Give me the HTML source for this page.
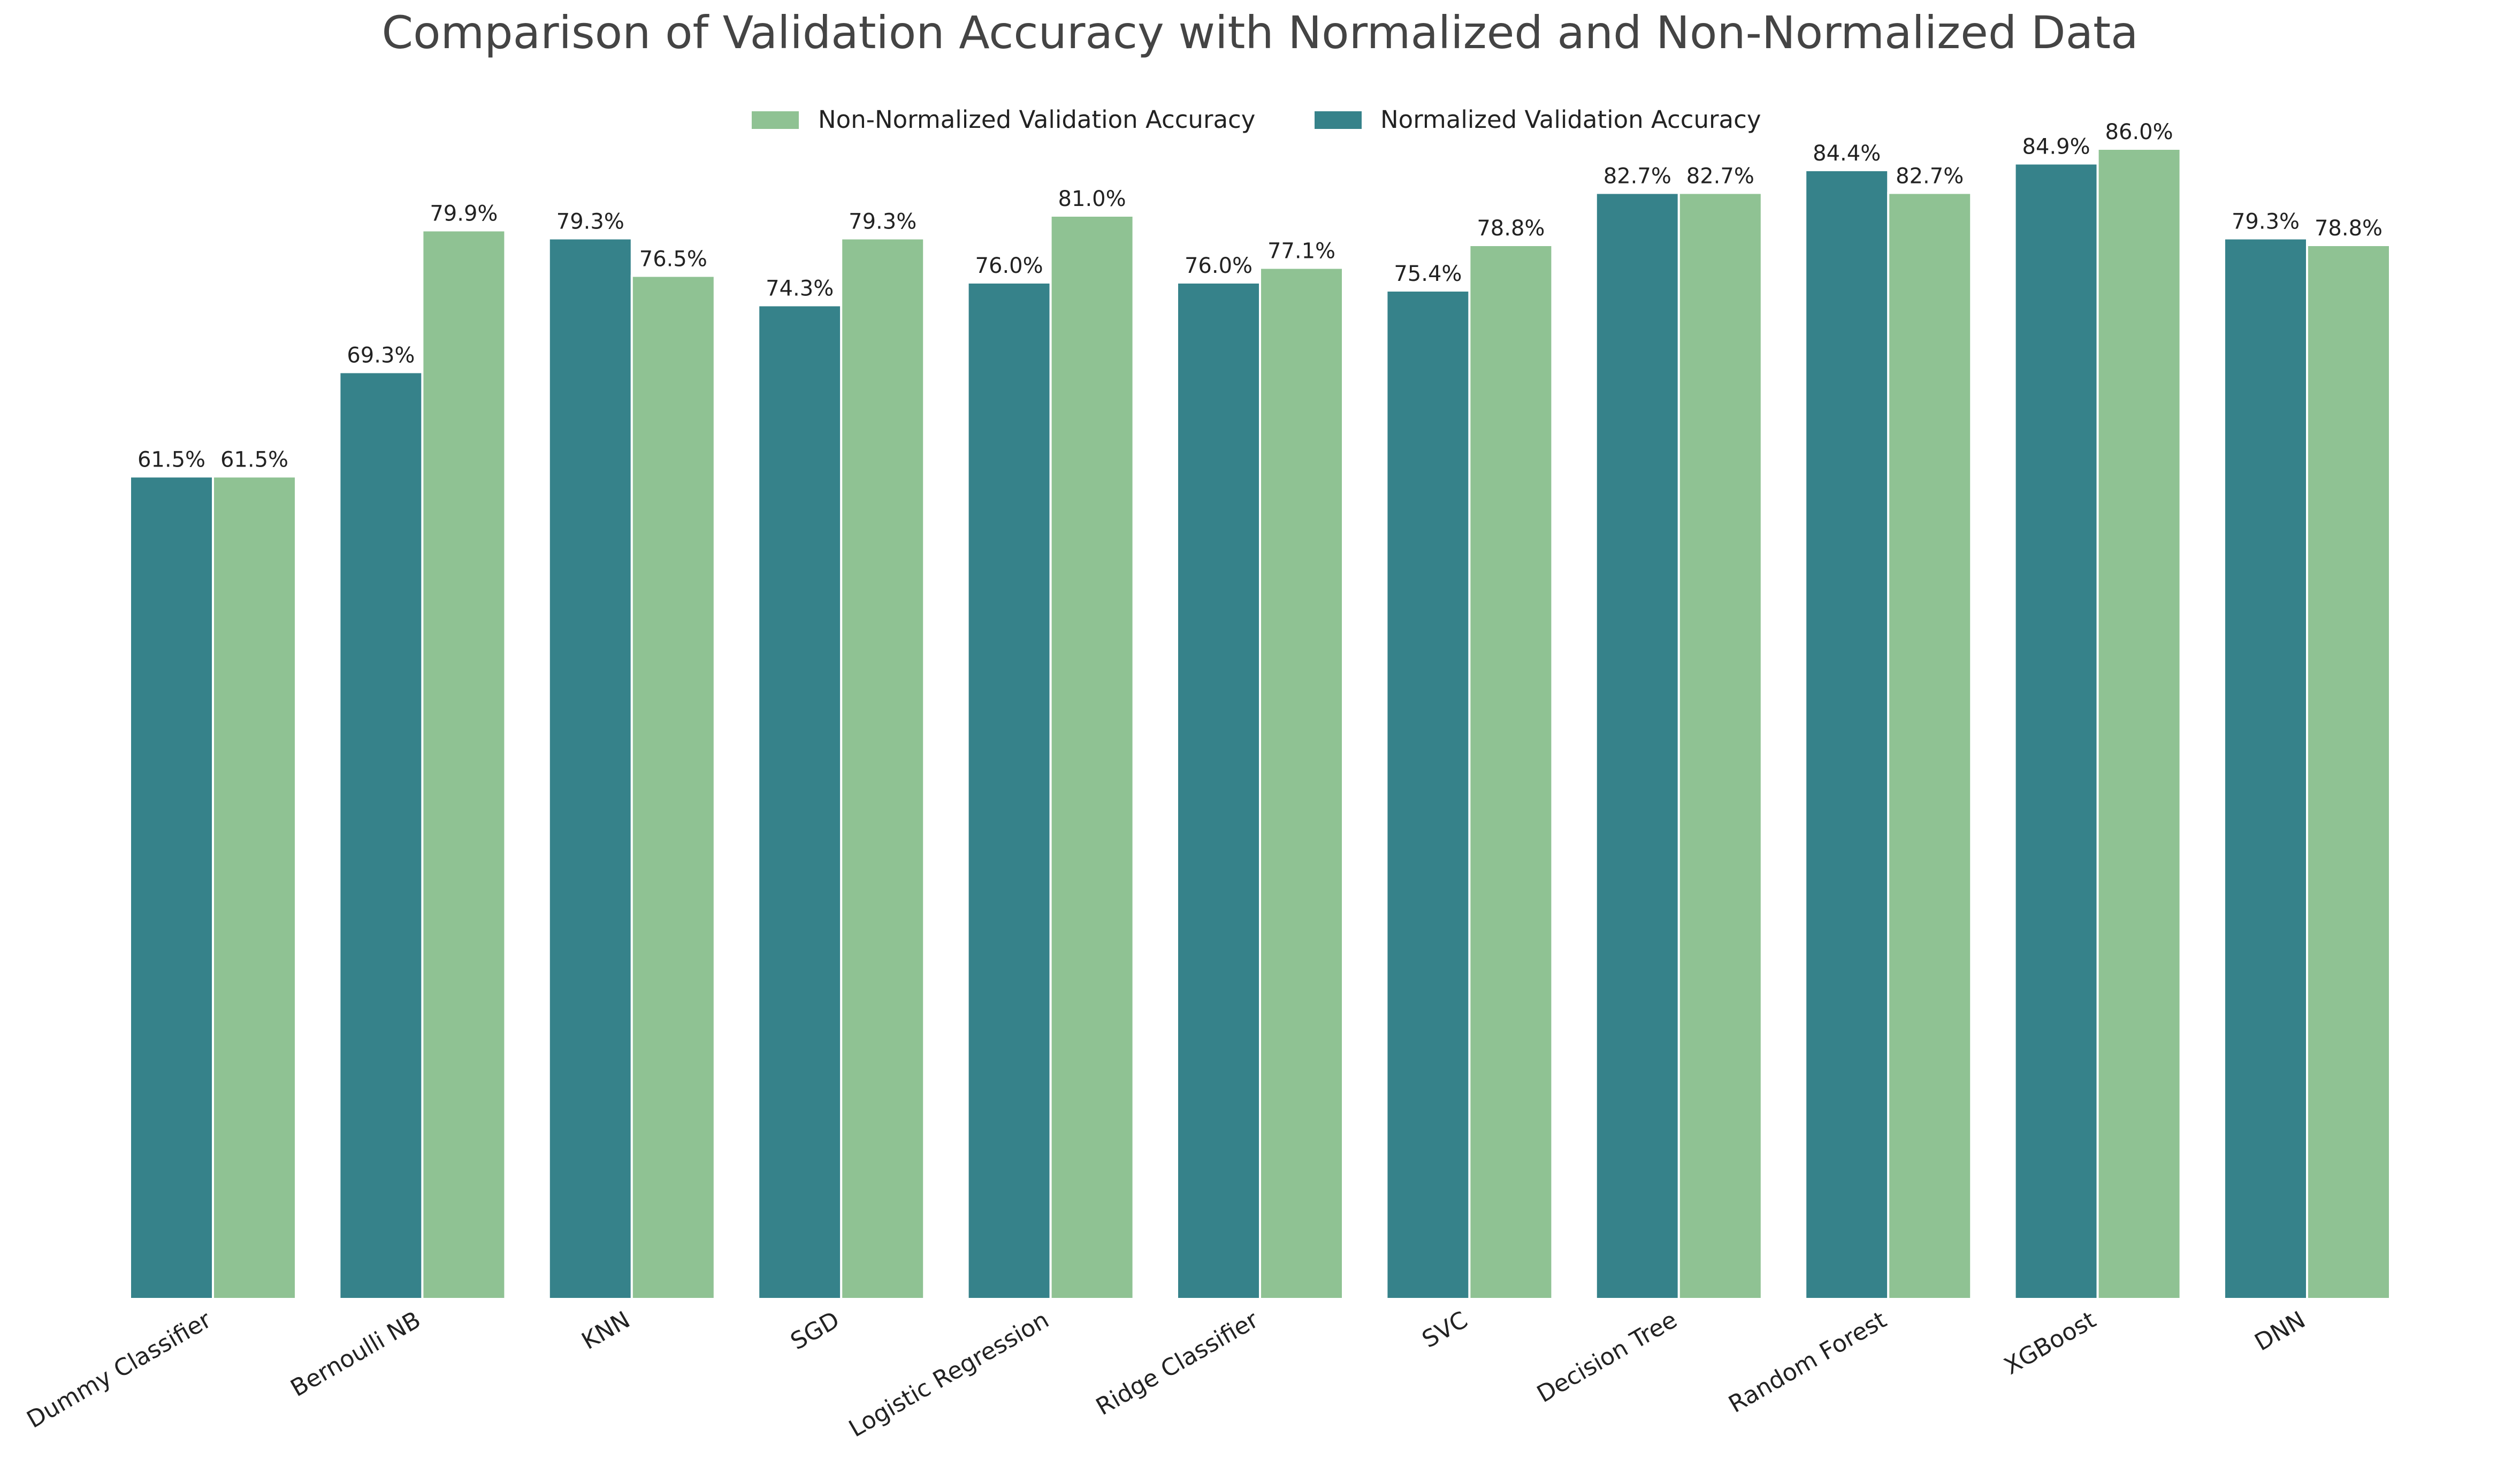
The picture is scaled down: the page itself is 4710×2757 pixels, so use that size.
<!DOCTYPE html>
<html><head><meta charset="utf-8"><style>
html,body{margin:0;padding:0;background:#fff;}
svg{display:block;font-family:"DejaVu Sans","Liberation Sans",sans-serif;}
</style></head><body>
<svg id="chart" width="4710" height="2757" viewBox="0 0 4710 2757">
<text x="2355" y="90" text-anchor="middle" font-size="84" fill="#444">Comparison of Validation Accuracy with Normalized and Non-Normalized Data</text>
<g>
<rect x="1405" y="208" width="88" height="33" fill="#8fc293"/>
<text x="1529" y="239" font-size="45" fill="#222">Non-Normalized Validation Accuracy</text>
<rect x="2457" y="208" width="88" height="33" fill="#36828a"/>
<text x="2580" y="239" font-size="45" fill="#222">Normalized Validation Accuracy</text>
</g>
<g id="bars"></g>
</svg>
<script>
const categories = ["Dummy Classifier","Bernoulli NB","KNN","SGD","Logistic Regression","Ridge Classifier","SVC","Decision Tree","Random Forest","XGBoost","DNN"];
const normalized = [61.5,69.3,79.3,74.3,76.0,76.0,75.4,82.7,84.4,84.9,79.3];
const nonNormalized = [61.5,79.9,76.5,79.3,81.0,77.1,78.8,82.7,82.7,86.0,78.8];

const NS="http://www.w3.org/2000/svg";
const g=document.getElementById('bars');
const base=2428, perPct=25.0, x0=398, step=391.4, bw=155;
const y=v=>base-v*perPct;
const xc=i=>x0+i*step;
function mk(tag,attrs){const e=document.createElementNS(NS,tag);for(const k in attrs)e.setAttribute(k,attrs[k]);g.appendChild(e);return e;}
categories.forEach((c,i)=>{
  const cx=xc(i);
  [[normalized[i],cx-bw,'#36828a','normalized'],[nonNormalized[i],cx,'#8fc293','non-normalized']].forEach(([v,x,col,s])=>{
    const r=mk('rect',{x:x,y:y(v),width:bw,height:base-y(v),fill:col,stroke:'#fff','stroke-width':4});
    
    
    const t=mk('text',{x:x+bw/2,y:y(v)-18,'text-anchor':'middle','font-size':40,fill:'#222'});
    t.textContent=v.toFixed(1)+'%';
    
    
  });
  const lbl=mk('text',{x:cx,y:base+48,'text-anchor':'end','font-size':44,fill:'#222',transform:`rotate(-30 ${cx} ${base+48})`});
  lbl.textContent=c;
  
  
});
</script>
</body></html>
